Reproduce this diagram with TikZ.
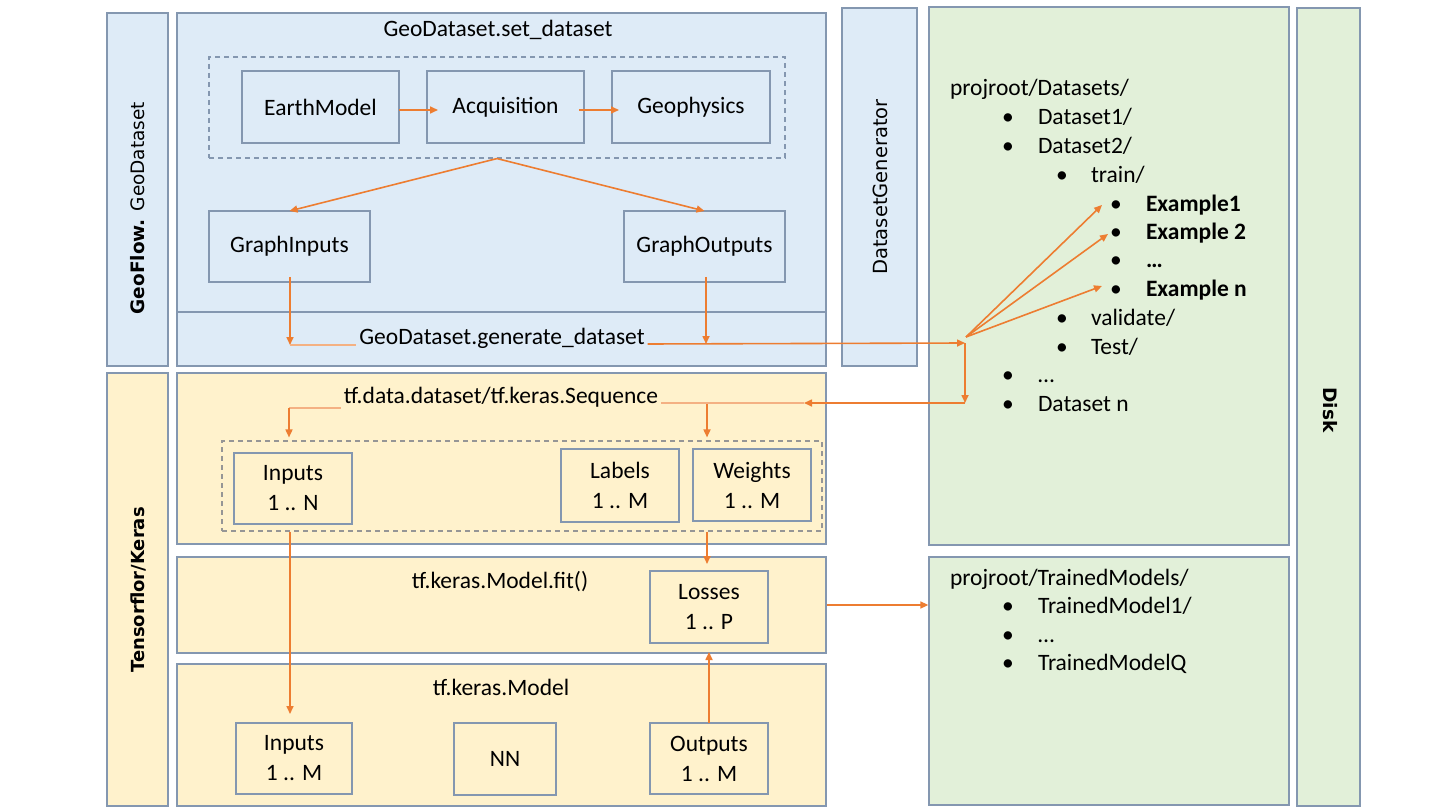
\documentclass[tikz,border=0pt]{standalone}
\usepackage{fontspec}
\setmainfont{Carlito}
\newfontfamily\vfont{DejaVu Sans}
\usetikzlibrary{arrows.meta}
\definecolor{bordc}{RGB}{132,151,176}
\definecolor{dgray}{RGB}{150,150,150}
\definecolor{bluef}{RGB}{222,235,247}
\definecolor{yelf}{RGB}{255,242,204}
\definecolor{grnf}{RGB}{226,240,217}
\definecolor{orng}{RGB}{237,125,49}
\definecolor{lorng}{RGB}{244,177,131}
\newcommand\mybox[7]{\node[#1, minimum width={(#4-#2)*1pt}, minimum height={(#5-#3)*1pt}] (#6) at ({(#2+#4)/2},{(#3+#5)/2}) {#7};}
\newcommand\lit[5]{\node[item, anchor=center] (b#1) at (#2,#4) {\textbullet};\node[item] (t#1) at (#3,#4) {#5};}
\begin{document}
\begin{tikzpicture}[x=1pt,y=-1pt,
 base/.style={font=\fontsize{23.5}{30}\selectfont, inner sep=0pt, outer sep=0pt},
 bluebox/.style={draw=bordc, fill=bluef, line width=1.3pt},
 ybox/.style={draw=bordc, fill=yelf, line width=1.3pt},
 gbox/.style={draw=bordc, fill=grnf, line width=1.3pt},
 dashbox/.style={draw=bordc, line width=1.1pt, dash pattern=on 5pt off 4pt},
 inbox/.style={base, draw=bordc, line width=1.3pt, align=center},
 title/.style={base, outer sep=3pt},
 item/.style={base, anchor=west, text height=16pt, text depth=5pt},
 rotlab/.style={font=\vfont\fontsize{18.5}{22}\selectfont, inner sep=0pt},
 arr/.style={draw=orng, line width=1.6pt, -{Triangle[length=8pt,width=7pt]}},
 lightln/.style={draw=lorng, line width=1.6pt}]
\useasboundingbox (0,0) rectangle (1440,810);
\fill[white] (0,0) rectangle (1440,810);
% outer boxes
\mybox{bluebox}{107}{13}{168}{366}{gfstrip}{}
\mybox{bluebox}{177}{13}{826}{312}{setbox}{}
\mybox{bluebox}{177}{312}{826}{366}{genbox}{}
\mybox{bluebox}{842}{8}{917}{366}{dsgen}{}
\mybox{ybox}{107}{373}{168}{806}{tfstrip}{}
\mybox{ybox}{177}{373}{826}{544}{tfdata}{}
\mybox{ybox}{177}{557}{826}{653}{fitbox}{}
\mybox{ybox}{177}{664}{826}{806}{modelbox}{}
\mybox{gbox}{929}{7}{1289}{545}{dsdisk}{}
\mybox{gbox}{929}{557}{1289}{805}{tmdisk}{}
\mybox{gbox}{1297}{8}{1360}{806}{disk}{}
% dashed groups
\mybox{dashbox}{209}{57}{785}{158}{dashA}{}
\mybox{dashbox, draw=dgray}{222}{441}{822}{531}{dashB}{}
% inner boxes
\mybox{inbox}{242}{71}{399}{143}{em}{EarthModel}
\mybox{inbox}{427}{71}{584}{143}{acq}{Acquisition}
\mybox{inbox}{612}{71}{770}{143}{geo}{Geophysics}
\mybox{inbox}{209}{211}{370}{282}{gi}{GraphInputs}
\mybox{inbox}{624}{211}{785}{282}{go}{GraphOutputs}
\mybox{inbox}{234}{453}{352}{524}{inN}{Inputs\\1 .. N}
\mybox{inbox}{561}{449}{679}{522}{lab}{Labels\\1 .. M}
\mybox{inbox}{693}{449}{811}{521}{wei}{Weights\\1 .. M}
\mybox{inbox}{650}{571}{768}{643}{loss}{Losses\\1 .. P}
\mybox{inbox}{236}{723}{352}{794}{inM}{Inputs\\1 .. M}
\mybox{inbox}{454}{723}{556}{795}{nn}{NN}
\mybox{inbox}{650}{723}{768}{794}{outp}{Outputs\\1 .. M}
% titles
\node[title] (settitle) at (498,30) {GeoDataset.set\_dataset};
\node[title] (gentitle) at (502,338) {GeoDataset.generate\_dataset};
\node[title] (tftitle) at (501,397) {tf.data.dataset/tf.keras.Sequence};
\node[title] (fittitle) at (500,582) {tf.keras.Model.fit()};
\node[title] (modeltitle) at (501,687) {tf.keras.Model};
% rotated labels
\node[rotlab, rotate=90] (gflab) at (138,208) {\textbf{GeoFlow.} GeoDataset};
\node[rotlab, font=\vfont\fontsize{18}{22}\selectfont, rotate=90] (tflab) at (138,590) {\textbf{Tensorflor/Keras}};
\node[rotlab, font=\vfont\fontsize{19.5}{22}\selectfont, rotate=90] (dglab) at (880,187) {DatasetGenerator};
\node[rotlab, rotate=-90] (disklab) at (1330,410) {\textbf{Disk}};
% dataset list
\node[item] (dsroot) at (950,90) {projroot/Datasets/};
\lit{d1}{1008}{1038}{119}{Dataset1/}
\lit{d2}{1008}{1038}{148}{Dataset2/}
\lit{tr}{1062}{1091}{177}{train/}
\lit{e1}{1116}{1146}{206}{\textbf{Example1}}
\lit{e2}{1116}{1146}{234}{\textbf{Example 2}}
\lit{e3}{1116}{1146}{262}{\textbf{…}}
\lit{en}{1116}{1146}{291}{\textbf{Example n}}
\lit{va}{1062}{1091}{320}{validate/}
\lit{te}{1062}{1091}{349}{Test/}
\lit{d3}{1008}{1038}{377}{…}
\lit{dn}{1008}{1038}{406}{Dataset n}
% trained models list
\node[item] (tmroot) at (950,580) {projroot/TrainedModels/};
\lit{m1}{1008}{1038}{608}{TrainedModel1/}
\lit{m2}{1008}{1038}{637}{…}
\lit{mq}{1008}{1038}{665}{TrainedModelQ}
% helper coordinates
\coordinate (gib) at (290,345);
\coordinate (gob) at (706,344);
\coordinate (hub) at (965,343);
\coordinate (hubd) at (966,337);
\coordinate (hub2) at (965,403);
\coordinate (tfin) at (804,403);
\coordinate (tfl) at (289,408);
\coordinate (tfr) at (707,404);
% connectors
\draw[arr] ([yshift=-3pt]em.east) -- ([xshift=11pt,yshift=-3pt]acq.west);
\draw[arr] ([xshift=-5pt,yshift=-3pt]acq.east) -- ([xshift=7pt,yshift=-3pt]geo.west);
\draw[arr] (dashA.south) -- (gi.north);
\draw[arr] (dashA.south) -- (go.north);
\draw[arr] ([yshift=5pt]gi.south -| gib) -- (gib);
\draw[lightln] (gib) -- (gentitle.west |- gib);
\draw[arr] ([yshift=5pt]go.south -| gob) -- (gob);
\draw[arr] (gentitle.east |- gob) -- (hub);
\draw[arr] (hubd) -- ([xshift=-14pt,yshift=1pt]be1.center);
\draw[arr] (hubd) -- ([xshift=-8pt]be2.center);
\draw[arr] (hubd) -- ([xshift=-14pt,yshift=5pt]ben.center);
\draw[arr] (hub) -- (hub2);
\draw[arr] (hub2) -- (tfin);
\draw[lightln] (tfin) -- (tftitle.east |- tfin);
\draw[lightln] (tftitle.west |- tfl) -- (tfl);
\draw[arr] (tfl) -- ([yshift=3pt]dashB.north -| tfl);
\draw[arr] (tfr) -- ([yshift=3pt]dashB.north -| tfr);
\draw[arr] (dashB.south -| gib) -- ([yshift=9pt]inM.north -| gib);
\draw[arr] (dashB.south -| tfr) -- ([yshift=7pt]loss.north -| tfr);
\draw[arr] (outp.north) -- ([yshift=-9pt]loss.south);
\draw[arr] (fitbox.east) -- (tmdisk.west |- fitbox.east);
\end{tikzpicture}
\end{document}
